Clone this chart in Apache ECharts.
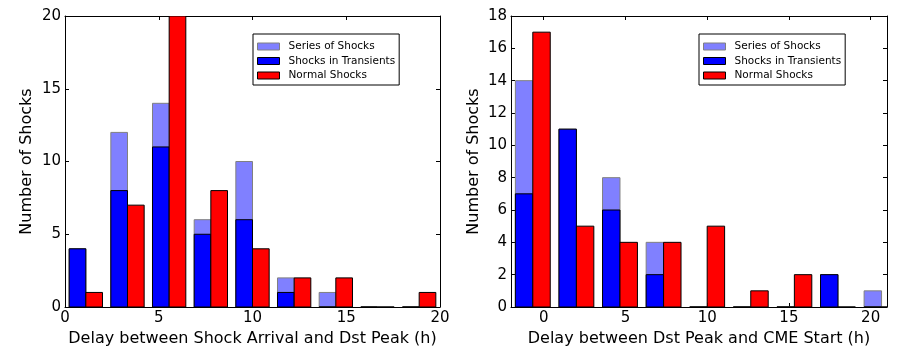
<!DOCTYPE html>
<html>
<head>
<meta charset="UTF-8">
<title>Shock delays</title>
<script src="https://cdn.jsdelivr.net/npm/echarts@6/dist/echarts.min.js"></script>
<style>
  body { margin: 0; background: #fff; }
  #chart { width: 900px; height: 353px; }
</style>
</head>
<body>
<div id="chart"></div>
<script>
// left panel: delay between shock arrival and Dst peak (h)
const leftBins = [0, 2.222, 4.444, 6.667, 8.889, 11.111, 13.333, 15.556, 17.778];
const leftBinWidth = 2.222;
const leftSeries = [4, 12, 14, 6, 10, 2, 1, 0, 0];      // series of shocks (drawn behind transients)
const leftTransients = [4, 8, 11, 5, 6, 1, 0, 0, 0];
const leftNormal = [1, 7, 20, 8, 4, 2, 2, 0, 1];

// right panel: delay between Dst peak and CME start (h)
const rightBins = [-2, 0.667, 3.333, 6, 8.667, 11.333, 14, 16.667, 19.333];
const rightBinWidth = 2.667;
const rightSeries = [14, 11, 8, 4, 0, 0, 0, 2, 1];
const rightTransients = [7, 11, 6, 2, 0, 0, 0, 2, 0];
const rightNormal = [17, 5, 4, 4, 5, 1, 2, 0, 0];

const names = ['Series of Shocks', 'Shocks in Transients', 'Normal Shocks'];
const xTicks = [0, 5, 10, 15, 20];

const FONT = 'DejaVu Sans';
const chart = echarts.init(document.getElementById('chart'));

// one histogram bar per bin, slot 0 = left half, slot 1 = right half
function bars(name, bins, w, vals, slot, fill, stroke, gi) {
  return {
    type: 'custom', name: name,
    xAxisIndex: gi * 2, yAxisIndex: gi * 2,
    data: bins.map((b, i) => [b, vals[i]]),
    encode: { x: 0, y: 1 },
    clip: true,
    renderItem: (params, api) => {
      const x0 = api.value(0) + w * (0.1 + 0.4 * slot);
      const p0 = api.coord([x0, api.value(1)]);
      const p1 = api.coord([x0 + 0.4 * w, 0]);
      return {
        type: 'rect',
        shape: { x: p0[0], y: p0[1], width: p1[0] - p0[0], height: p1[1] - p0[1] },
        style: { fill: fill, stroke: stroke, lineWidth: 1 }
      };
    }
  };
}

function xAxes(gi, min, max, title) {
  const base = {
    gridIndex: gi, type: 'value', min: min, max: max,
    splitLine: { show: false },
    axisLine: { show: true, onZero: false, lineStyle: { color: '#000', width: 1 } },
    axisTick: { show: true, inside: true, length: 4, lineStyle: { color: '#000' }, customValues: xTicks }
  };
  return [
    Object.assign({}, base, {
      position: 'bottom',
      axisLabel: { show: true, customValues: xTicks, color: '#000', fontFamily: FONT, fontSize: 15, margin: 4 },
      name: title, nameLocation: 'middle', nameGap: 20,
      nameTextStyle: { color: '#000', fontFamily: FONT, fontSize: 16 }
    }),
    Object.assign({}, base, { position: 'top', axisLabel: { show: false } })
  ];
}

function yAxes(gi, max, interval, gap) {
  const base = {
    gridIndex: gi, type: 'value', min: 0, max: max, interval: interval,
    splitLine: { show: false },
    axisLine: { show: true, onZero: false, lineStyle: { color: '#000', width: 1 } },
    axisTick: { show: true, inside: true, length: 4, lineStyle: { color: '#000' } }
  };
  return [
    Object.assign({}, base, {
      position: 'left',
      axisLabel: { color: '#000', fontFamily: FONT, fontSize: 15, margin: 4 },
      name: 'Number of Shocks', nameLocation: 'middle', nameGap: gap,
      nameTextStyle: { color: '#000', fontFamily: FONT, fontSize: 16 }
    }),
    Object.assign({}, base, { position: 'right', axisLabel: { show: false } })
  ];
}

function legend(left) {
  return {
    left: left, top: 34, orient: 'vertical', icon: 'rect',
    itemWidth: 22, itemHeight: 7, itemGap: 3.5,
    padding: [7, 4, 4, 4],
    borderColor: '#000', borderWidth: 1, backgroundColor: '#fff',
    selectedMode: false,
    textStyle: { color: '#000', fontFamily: FONT, fontSize: 10.5, padding: [0, 0, 0, 4] },
    data: [
      { name: names[0], itemStyle: { color: '#8080ff', borderColor: '#808080', borderWidth: 1 } },
      { name: names[1], itemStyle: { color: '#0000ff', borderColor: '#000', borderWidth: 1 } },
      { name: names[2], itemStyle: { color: '#ff0000', borderColor: '#000', borderWidth: 1 } }
    ]
  };
}

chart.setOption({
  animation: false,
  backgroundColor: '#fff',
  grid: [
    { left: 65, top: 16, width: 375, height: 291 },
    { left: 511, top: 16, width: 376, height: 291 }
  ],
  legend: [legend(253), legend(699)],
  xAxis: xAxes(0, 0, 20, 'Delay between Shock Arrival and Dst Peak (h)')
    .concat(xAxes(1, -2, 21, 'Delay between Dst Peak and CME Start (h)')),
  yAxis: yAxes(0, 20, 5, 30).concat(yAxes(1, 18, 2, 29)),
  series: [
    bars(names[0], leftBins, leftBinWidth, leftSeries, 0, '#8080ff', '#808080', 0),
    bars(names[1], leftBins, leftBinWidth, leftTransients, 0, '#0000ff', '#000', 0),
    bars(names[2], leftBins, leftBinWidth, leftNormal, 1, '#ff0000', '#000', 0),
    bars(names[0], rightBins, rightBinWidth, rightSeries, 0, '#8080ff', '#808080', 1),
    bars(names[1], rightBins, rightBinWidth, rightTransients, 0, '#0000ff', '#000', 1),
    bars(names[2], rightBins, rightBinWidth, rightNormal, 1, '#ff0000', '#000', 1)
  ]
});
</script>
</body>
</html>
